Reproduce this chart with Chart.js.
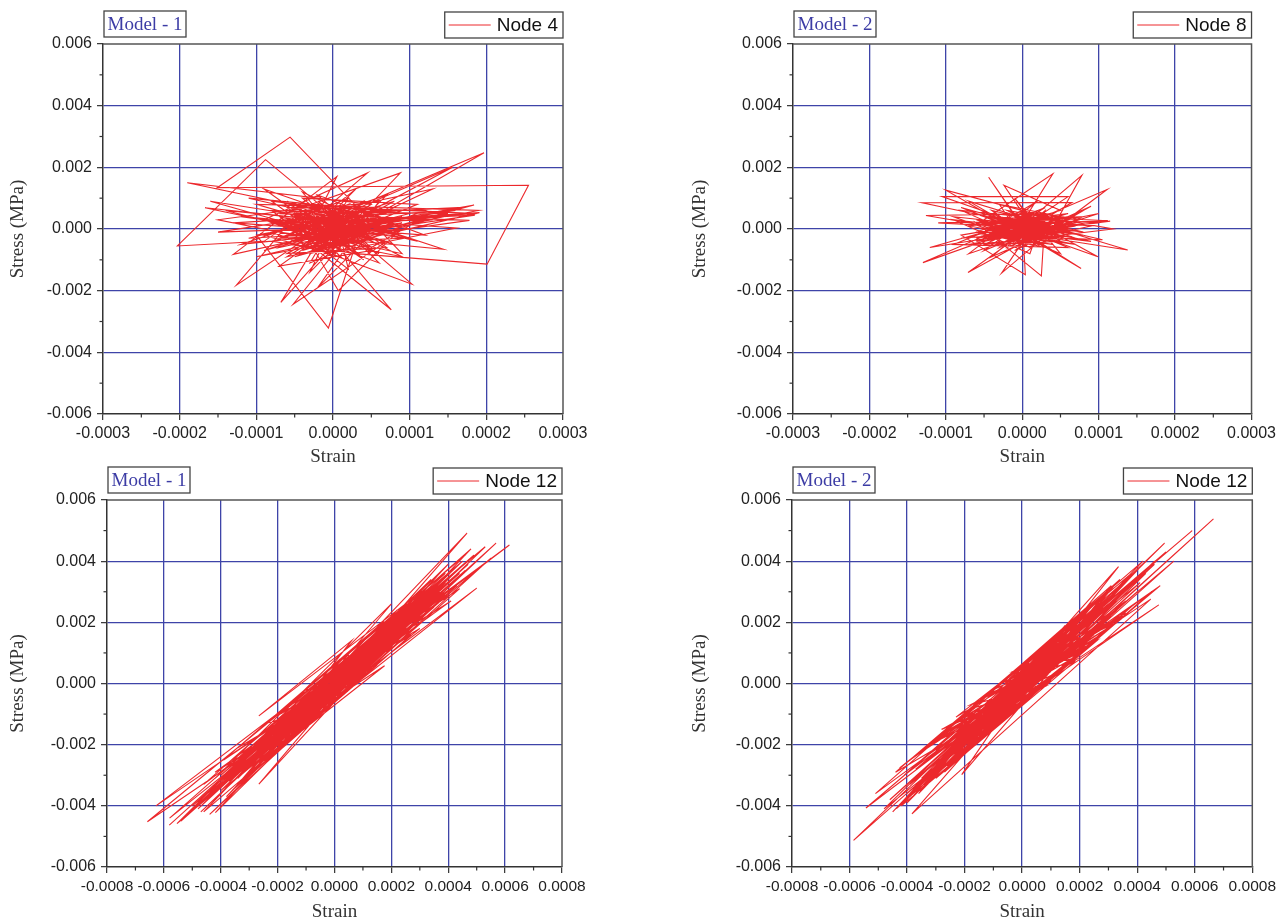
<!DOCTYPE html>
<html><head><meta charset="utf-8">
<script src="https://cdn.jsdelivr.net/npm/chart.js@4/dist/chart.umd.min.js"></script>
<style>
html,body{margin:0;padding:0;background:#fff;}
body{width:1282px;height:919px;position:relative;overflow:hidden;}
canvas{position:absolute;}
</style></head><body>
<canvas id="c1" width="600" height="470" style="left:0px;top:0px"></canvas>
<canvas id="c2" width="600" height="470" style="left:680px;top:0px"></canvas>
<canvas id="c3" width="600" height="462" style="left:0px;top:462px"></canvas>
<canvas id="c4" width="600" height="462" style="left:680px;top:462px"></canvas>
<script>
// ---------- tick values and labels ----------
const strainTicksSmall = [-0.0003,-0.0002,-0.0001,0,0.0001,0.0002,0.0003];
const strainLabelsSmall = ['-0.0003','-0.0002','-0.0001','0.0000','0.0001','0.0002','0.0003'];
const strainTicksLarge = [-0.0008,-0.0006,-0.0004,-0.0002,0,0.0002,0.0004,0.0006,0.0008];
const strainLabelsLarge = ['-0.0008','-0.0006','-0.0004','-0.0002','0.0000','0.0002','0.0004','0.0006','0.0008'];
const stressTicks = [-0.006,-0.004,-0.002,0,0.002,0.004,0.006];
const stressLabels = ['-0.006','-0.004','-0.002','0.000','0.002','0.004','0.006'];

// ---------- Model 1, Node 4 ----------
const node4Strain = [0,0.3e-4,-0.4e-4,0.6e-4,-0.2e-4,-0.9e-4,-2.03e-4,-0.88e-4,0.5e-4,1.2e-4,
-0.3e-4,0.2e-4,-0.7e-4,0.9e-4,-0.56e-4,-1.51e-4,2.55e-4,2.01e-4,0.3e-4,-0.5e-4,
0.7e-4,-1.0e-4,-0.06e-4,0.4e-4,-1.9e-4,0.5e-4,-0.6e-4,1.91e-4,-0.2e-4,0.76e-4,
-0.3e-4,0.2e-4,-1.26e-4,-0.4e-4,0.88e-4,0.1e-4,-0.68e-4,0,1.97e-4,0.6e-4,
-0.8e-4,1.03e-4,-0.1e-4,1.44e-4,-0.5e-4,0.45e-4,-0.9e-4,0.7e-4,-0.52e-4,0.3e-4,
1.84e-4,-0.2e-4,0.9e-4,-1.3e-4,0.05e-4,-0.3e-4,1.56e-4,0.2e-4,-1.67e-4,0.4e-4,
-0.2e-4,0.6e-4,-0.7e-4,1.78e-4,0.1e-4,-0.4e-4,0.8e-4,0.07e-4,-0.5e-4,1.61e-4,
-0.1e-4,0.5e-4,-1.1e-4,1.0e-4,-0.6e-4,0.3e-4,-0.3e-4,1.5e-4,-0.8e-4,0.2e-4,
0,-1.5e-4,0.9e-4,-0.2e-4,1.3e-4,-0.4e-4,0.6e-4,-0.9e-4,0.4e-4,-0.1e-4,
1.1e-4,-0.6e-4,0.3e-4,-1.2e-4,0.7e-4,-0.3e-4,0.1e-4,1.87e-4,-0.5e-4,0.5e-4,
-0.7e-4,0.2e-4,-0.1e-4,0.8e-4,-1.0e-4,0.4e-4,-0.2e-4,1.2e-4,-0.4e-4,0,
0.2e-4,-0.3e-4,0.5e-4,-0.1e-4,0.4e-4,-0.6e-4,0.1e-4,-0.2e-4,0.7e-4,-0.4e-4,
1.85e-4,-0.2e-4,0.3e-4,-0.7e-4,0.6e-4,-1.4e-4,0.2e-4,-0.1e-4,0.8e-4,-0.5e-4,
0,0.4e-4,-0.3e-4,1.6e-4,-0.6e-4,0.1e-4,-0.8e-4,0.5e-4,-0.2e-4,0.9e-4,
-1.0e-4,0.3e-4,-0.4e-4,0.6e-4,-0.1e-4,1.3e-4,-0.5e-4,0.2e-4,-0.7e-4,0.4e-4,
-1.6e-4,0.7e-4,-0.3e-4,0.1e-4,-0.6e-4,1.2e-4,-0.2e-4,0.5e-4,-0.9e-4,0.3e-4,
-0.1e-4,0.8e-4,-0.5e-4,0.2e-4,-1.2e-4,0.6e-4,-0.3e-4,0,1.7e-4,-0.4e-4,
0.3e-4,-0.8e-4,0.1e-4,-0.2e-4,0.7e-4,-0.6e-4,0.4e-4,-0.1e-4,1.0e-4,-1.1e-4,
0.2e-4,-0.4e-4,0.6e-4,-0.3e-4,0,0.9e-4,-0.7e-4,0.3e-4,-0.5e-4,1.4e-4,
-0.2e-4,0.5e-4,-0.9e-4,0.1e-4,-0.4e-4,0.7e-4,-1.3e-4,0.4e-4,-0.1e-4,0.6e-4,
-0.6e-4,0.2e-4,-0.3e-4,1.9e-4,-0.5e-4,0.3e-4,-0.8e-4,0,0.5e-4,-0.2e-4,
-1.5e-4,0.8e-4,-0.1e-4,0.4e-4,-0.7e-4,0.2e-4,-0.4e-4,1.1e-4,-0.3e-4,0.1e-4];
const node4Stress = [0,0.5e-3,-0.3e-3,0.2e-3,0.8e-3,-0.4e-3,-0.55e-3,2.25e-3,-0.6e-3,0.4e-3,
-1.1e-3,1.0e-3,0.1e-3,-0.8e-3,2.98e-3,1.34e-3,1.42e-3,-1.14e-3,-0.8e-3,0.5e-3,
0.6e-3,-0.2e-3,-3.21e-3,0.3e-3,1.5e-3,0.8e-3,-0.9e-3,0.53e-3,0.2e-3,-2.62e-3,
-0.5e-3,0.6e-3,-1.82e-3,0.7e-3,1.82e-3,-0.2e-3,-2.38e-3,0.4e-3,2.47e-3,0.5e-3,
-0.1e-3,-1.79e-3,0.6e-3,-0.66e-3,-0.2e-3,1.82e-3,0.3e-3,-0.4e-3,-2.44e-3,0.1e-3,
0.78e-3,-0.6e-3,0.4e-3,-0.82e-3,1.7e-3,0,2.0e-3,0.2e-3,0.69e-3,-0.4e-3,
-1.9e-3,0.9e-3,0.5e-3,0.28e-3,-0.3e-3,1.2e-3,-0.2e-3,-2.0e-3,0.4e-3,0.03e-3,
-0.8e-3,0.1e-3,1.0e-3,0.5e-3,-0.5e-3,1.3e-3,-0.2e-3,0.5e-3,0.6e-3,-1.3e-3,
0.8e-3,0.3e-3,-0.9e-3,0.5e-3,1.3e-3,-0.7e-3,0,1.3e-3,-1.0e-3,0.3e-3,
-0.4e-3,0.9e-3,-0.1e-3,-0.5e-3,1.1e-3,-1.4e-3,0.7e-3,0.5e-3,0.2e-3,-0.7e-3,
-1.2e-3,0.4e-3,-0.4e-3,0.7e-3,0.8e-3,-0.2e-3,1.1e-3,-0.2e-3,0.1e-3,-0.6e-3,
-0.1e-3,0.3e-3,-0.3e-3,0.5e-3,0,-0.2e-3,0.4e-3,-0.5e-3,0.3e-3,0.2e-3,
0.45e-3,-0.3e-3,0.6e-3,-0.6e-3,0.1e-3,0.6e-3,-0.4e-3,0.1e-3,-0.5e-3,0.6e-3,
-0.9e-3,0.4e-3,-0.1e-3,0.6e-3,0.3e-3,-0.7e-3,0.9e-3,0.5e-3,-0.2e-3,0.2e-3,
-0.9e-3,-0.3e-3,0.5e-3,-0.8e-3,0.2e-3,0.3e-3,-0.4e-3,0.8e-3,-0.1e-3,-0.5e-3,
0.9e-3,0,0.4e-3,-0.5e-3,0.7e-3,0.6e-3,-0.7e-3,0.2e-3,-0.7e-3,0.3e-3,
-0.3e-3,0.9e-3,-0.1e-3,0.1e-3,0.4e-3,-0.2e-3,-0.8e-3,0.5e-3,0.7e-3,-0.3e-3,
-0.6e-3,0.2e-3,0.3e-3,0.9e-3,-0.6e-3,-0.8e-3,0.6e-3,-0.1e-3,0,-0.3e-3,
0.5e-3,-0.6e-3,0.4e-3,0.6e-3,-0.4e-3,-0.3e-3,0.4e-3,-0.2e-3,-0.9e-3,0.4e-3,
0,0.7e-3,-0.2e-3,-0.9e-3,0.3e-3,0.5e-3,0.2e-3,-0.1e-3,0.6e-3,-1.1e-3,
0,0.3e-3,-0.4e-3,0.6e-3,0.8e-3,-0.8e-3,-0.4e-3,0.2e-3,-0.4e-3,0.4e-3,
-0.1e-3,0.1e-3,-0.6e-3,0.9e-3,-0.3e-3,-0.2e-3,1.0e-3,0.8e-3,-0.6e-3,0.1e-3];

// ---------- Model 2, Node 8 ----------
const node8Strain = [0,0.3e-4,-0.3e-4,0.5e-4,-1.31e-4,0.65e-4,-0.2e-4,0.4e-4,-1.3e-4,-0.1e-4,
0.2e-4,-0.5e-4,0.4e-4,-0.1e-4,0.6e-4,-1.0e-4,0.1e-4,-0.44e-4,0,0.78e-4,
0.3e-4,-0.4e-4,1.38e-4,0.2e-4,-0.71e-4,0.4e-4,-0.3e-4,0.77e-4,-0.1e-4,1.11e-4,
0.1e-4,-0.6e-4,0.25e-4,0.3e-4,-1.26e-4,0.5e-4,-0.2e-4,1.19e-4,-0.5e-4,0.2e-4,
-0.27e-4,0.6e-4,-0.8e-4,0.04e-4,0,1.12e-4,-0.4e-4,0.3e-4,-1.21e-4,0.5e-4,
-0.24e-4,0.2e-4,0.9e-4,-0.3e-4,0.1e-4,0.99e-4,-0.6e-4,0.4e-4,-1.05e-4,0.6e-4,
-0.1e-4,0.7e-4,-0.5e-4,0.2e-4,-0.7e-4,0.5e-4,-0.2e-4,0.8e-4,-0.9e-4,0.1e-4,
0.3e-4,-0.4e-4,0.7e-4,-0.3e-4,0,1.0e-4,-0.6e-4,0.2e-4,-0.1e-4,0.5e-4,
-0.8e-4,0.4e-4,-0.2e-4,0.9e-4,-0.5e-4,0.1e-4,0.6e-4,-0.9e-4,0.3e-4,-0.3e-4,
1.15e-4,-0.4e-4,0.2e-4,-0.7e-4,0.5e-4,-0.1e-4,0.8e-4,-0.5e-4,0,
0.1e-4,-0.2e-4,0.3e-4,-0.4e-4,0.5e-4,-0.1e-4,0.2e-4,-0.3e-4,0.6e-4,0,
-0.5e-4,0.4e-4,-0.2e-4,0.7e-4,-0.6e-4,0.3e-4,-0.1e-4,0.5e-4,-0.3e-4,0.1e-4,
1.0e-4,-0.4e-4,0.2e-4,-0.7e-4,0.6e-4,-0.2e-4,0,0.4e-4,-0.5e-4,0.3e-4,
-0.1e-4,0.8e-4,-0.3e-4,0.2e-4,-0.8e-4,0.5e-4,-0.2e-4,0.1e-4,-0.6e-4,0.7e-4,
0,-0.4e-4,0.3e-4,-0.1e-4,0.9e-4,-0.5e-4,0.2e-4,-0.3e-4,0.6e-4,-0.9e-4,
0.1e-4,-0.2e-4,0.4e-4,-0.7e-4,0.5e-4,0,-0.4e-4,0.8e-4,-0.1e-4,0.3e-4,
-0.6e-4,0.2e-4,-0.3e-4,0.6e-4,-1.1e-4,0.4e-4,-0.2e-4,0.1e-4,-0.5e-4,0.7e-4,
0,-0.3e-4,0.5e-4,-0.8e-4,0.2e-4,-0.1e-4,0.3e-4,-0.4e-4,1.05e-4,0.1e-4];
const node8Stress = [0,0.3e-3,-0.2e-3,-0.1e-3,0.85e-3,0.86e-3,-0.4e-3,0.4e-3,-1.09e-3,0.2e-3,
-0.5e-3,0.3e-3,1.79e-3,-0.2e-3,0.2e-3,1.26e-3,-0.3e-3,1.68e-3,0.1e-3,1.74e-3,
-0.4e-3,0,-0.68e-3,0.2e-3,-1.41e-3,0.1e-3,0.4e-3,-1.28e-3,0,1.28e-3,
-0.6e-3,0.2e-3,-1.52e-3,0.5e-3,0.44e-3,-0.3e-3,0.6e-3,0,-0.5e-3,0.3e-3,
-1.43e-3,0.4e-3,-0.2e-3,-1.48e-3,0.4e-3,0.27e-3,-0.3e-3,0,-0.6e-3,0.6e-3,
1.42e-3,-0.2e-3,0.74e-3,-0.6e-3,0.3e-3,-0.9e-3,0.5e-3,-0.2e-3,1.05e-3,1.05e-3,
-0.1e-3,-0.5e-3,-0.1e-3,0.9e-3,-0.8e-3,0.2e-3,0.1e-3,-0.2e-3,0.3e-3,-0.8e-3,
0.6e-3,-0.9e-3,0.3e-3,0.8e-3,-0.3e-3,0.5e-3,-0.3e-3,0,1.0e-3,-0.8e-3,
0.6e-3,0.3e-3,-0.5e-3,0.1e-3,0.4e-3,-0.1e-3,-0.6e-3,-0.5e-3,0.7e-3,-0.2e-3,
0.25e-3,0.2e-3,-0.4e-3,0.9e-3,0,-0.7e-3,0.6e-3,-0.7e-3,0.2e-3,
0.1e-3,0.2e-3,-0.2e-3,-0.1e-3,0.3e-3,-0.4e-3,0.4e-3,0.1e-3,-0.1e-3,-0.2e-3,
0.2e-3,0.2e-3,-0.3e-3,0.1e-3,-0.4e-3,0.3e-3,0.5e-3,-0.4e-3,-0.5e-3,0,
0.2e-3,0.4e-3,-0.3e-3,0.1e-3,0.5e-3,-0.1e-3,0.6e-3,-0.5e-3,-0.2e-3,0.1e-3,
-0.6e-3,0.4e-3,0.3e-3,-0.1e-3,-0.3e-3,0.4e-3,0.5e-3,-0.4e-3,0.3e-3,-0.3e-3,
0.3e-3,-0.4e-3,0.5e-3,0.1e-3,-0.4e-3,0,0.2e-3,-0.3e-3,0,0.4e-3,
-0.5e-3,0.3e-3,-0.3e-3,-0.5e-3,0.1e-3,-0.1e-3,0.6e-3,-0.1e-3,0.2e-3,-0.6e-3,
-0.1e-3,0.6e-3,-0.1e-3,0.3e-3,0.2e-3,0,-0.6e-3,0.4e-3,-0.3e-3,0.2e-3,
0,0.2e-3,-0.2e-3,0.7e-3,-0.3e-3,0.4e-3,-0.1e-3,-0.2e-3,-0.35e-3,0.2e-3];

// ---------- Model 1, Node 12 ----------
const m1Node12Strain = [0,1.2e-4,-0.8e-4,2.1e-4,-1.6e-4,2.8e-4,-2.2e-4,3.5e-4,-0.5e-4,4.66e-4,
-1.0e-4,1.76e-4,-3.0e-4,0.6e-4,-2.66e-4,3.9e-4,-4.2e-4,2.0e-4,-3.5e-4,5.68e-4,
-1.8e-4,1.0e-4,-4.39e-4,3.0e-4,-0.2e-4,4.4e-4,-2.5e-4,1.5e-4,-5.81e-4,0.3e-4,
6.15e-4,-1.4e-4,2.4e-4,-3.2e-4,3.3e-4,-2.66e-4,1.3e-4,-0.6e-4,5.0e-4,-4.0e-4,
2.6e-4,-1.2e-4,0.9e-4,-6.58e-4,3.8e-4,-2.0e-4,1.8e-4,-3.8e-4,4.2e-4,-0.9e-4,
0.4e-4,-5.54e-4,2.2e-4,-1.5e-4,5.3e-4,-3.0e-4,0.8e-4,-2.3e-4,3.6e-4,-0.3e-4,
2.9e-4,-4.19e-4,1.1e-4,-1.9e-4,4.5e-4,-3.3e-4,0.1e-4,2.5e-4,-6.28e-4,1.6e-4,
-1.1e-4,3.4e-4,-2.7e-4,0.5e-4,4.8e-4,-4.6e-4,2.0e-4,-0.7e-4,3.0e-4,-3.6e-4,
1.4e-4,-2.1e-4,5.5e-4,-1.3e-4,0.7e-4,-5.0e-4,2.7e-4,-0.4e-4,3.9e-4,-2.4e-4,
1.9e-4,-3.9e-4,0.2e-4,4.1e-4,-1.7e-4,1.0e-4,-2.9e-4,3.1e-4,-0.1e-4,4.0e-4,
-4.8e-4,2.3e-4,-1.6e-4,0.6e-4,-3.4e-4,3.7e-4,-2.2e-4,1.5e-4,-0.8e-4,0,
-1.5e-4,2.0e-4,-2.6e-4,1.2e-4,-0.4e-4,3.2e-4,-3.1e-4,0.9e-4,-1.8e-4,2.7e-4,
-4.3e-4,1.6e-4,-0.9e-4,3.6e-4,-2.4e-4,0.4e-4,-3.7e-4,4.3e-4,-1.1e-4,2.3e-4,
-2.8e-4,0.7e-4,-5.2e-4,3.4e-4,-0.6e-4,1.9e-4,-3.3e-4,4.6e-4,-1.9e-4,0.2e-4,
-2.0e-4,2.8e-4,-4.5e-4,1.1e-4,-0.2e-4,3.8e-4,-2.9e-4,1.7e-4,-1.3e-4,2.5e-4,
-3.6e-4,0.8e-4,-5.8e-4,4.0e-4,-1.6e-4,1.4e-4,-2.5e-4,3.1e-4,-0.5e-4,2.1e-4,
-3.4e-4,0.5e-4,-4.0e-4,4.9e-4,-2.2e-4,1.3e-4,-1.0e-4,3.5e-4,-2.7e-4,0.6e-4,
-4.7e-4,2.4e-4,-1.4e-4,1.8e-4,-3.0e-4,3.9e-4,-0.8e-4,0.9e-4,-2.3e-4,2.9e-4,
-5.4e-4,4.4e-4,-1.7e-4,1.0e-4,-3.5e-4,2.6e-4,-0.3e-4,1.5e-4,-2.6e-4,3.3e-4,
-4.1e-4,0.3e-4,-1.2e-4,2.2e-4,-3.2e-4,4.7e-4,-2.0e-4,1.2e-4,-0.7e-4,3.0e-4,
-3.8e-4,2.1e-4,-1.5e-4,0.8e-4,-2.4e-4,3.7e-4,-4.4e-4,1.6e-4,-1.0e-4,0.4e-4,
0.5e-4,-1.7e-4,2.7e-4,-3.9e-4,1.7e-4,-0.3e-4,3.3e-4,-2.2e-4,0.9e-4,-4.2e-4,
4.1e-4,-1.4e-4,0.2e-4,-2.8e-4,3.6e-4,-0.9e-4,1.5e-4,-3.4e-4,2.0e-4,-0.1e-4,
-2.4e-4,4.6e-4,-1.0e-4,0.7e-4,-3.0e-4,2.2e-4,-4.6e-4,1.2e-4,-0.6e-4,3.0e-4,
-1.9e-4,0.4e-4,-3.6e-4,2.6e-4,-1.2e-4,0];
const m1Node12Stress = [0,1.3e-3,-0.9e-3,1.5e-3,-1.0e-3,2.6e-3,-2.1e-3,2.5e-3,-0.1e-3,4.92e-3,
-1.1e-3,0.58e-3,-2.9e-3,1.4e-3,-1.06e-3,3.6e-3,-3.1e-3,2.6e-3,-3.4e-3,4.59e-3,
-1.7e-3,0.5e-3,-4.28e-3,2.0e-3,0.3e-3,3.1e-3,-2.6e-3,1.5e-3,-4.63e-3,0.5e-3,
4.53e-3,-0.8e-3,1.6e-3,-2.3e-3,3.2e-3,-3.29e-3,0.7e-3,-0.8e-3,3.12e-3,-3.5e-3,
2.4e-3,-0.5e-3,0.2e-3,-4.52e-3,3.4e-3,-1.4e-3,1.9e-3,-3.7e-3,3.8e-3,-1.2e-3,
0.9e-3,-4.58e-3,1.4e-3,-1.6e-3,4.47e-3,-2.0e-3,1.1e-3,-2.5e-3,2.6e-3,-0.7e-3,
2.9e-3,-4.22e-3,0.6e-3,-1.0e-3,4.0e-3,-3.0e-3,-0.3e-3,2.2e-3,-4.0e-3,1.0e-3,
-0.6e-3,3.4e-3,-2.6e-3,0.2e-3,4.4e-3,-3.3e-3,1.3e-3,-0.2e-3,2.7e-3,-2.7e-3,
1.6e-3,-2.3e-3,4.1e-3,-1.3e-3,0.8e-3,-4.0e-3,1.9e-3,0,2.9e-3,-1.6e-3,
2.0e-3,-3.0e-3,0.4e-3,3.5e-3,-1.9e-3,1.0e-3,-2.1e-3,2.3e-3,-0.2e-3,3.9e-3,
-4.1e-3,2.0e-3,-1.2e-3,0.3e-3,-2.9e-3,3.0e-3,-1.5e-3,1.2e-3,-0.5e-3,0.2e-3,
-1.0e-3,1.8e-3,-2.4e-3,0.8e-3,-0.6e-3,2.5e-3,-2.3e-3,1.0e-3,-1.2e-3,2.5e-3,
-3.6e-3,1.5e-3,-0.4e-3,3.1e-3,-2.2e-3,0.1e-3,-3.2e-3,3.2e-3,-1.2e-3,1.7e-3,
-2.0e-3,0.9e-3,-4.3e-3,2.9e-3,-0.3e-3,1.3e-3,-2.8e-3,3.7e-3,-1.8e-3,0,
-1.9e-3,2.1e-3,-3.8e-3,1.2e-3,-0.4e-3,3.0e-3,-2.5e-3,1.1e-3,-0.7e-3,2.4e-3,
-2.9e-3,0.5e-3,-4.4e-3,3.6e-3,-1.5e-3,0.9e-3,-1.8e-3,2.8e-3,-0.6e-3,2.0e-3,
-3.1e-3,0.6e-3,-3.0e-3,4.2e-3,-2.0e-3,1.2e-3,-0.7e-3,2.8e-3,-2.3e-3,0.4e-3,
-4.2e-3,2.1e-3,-1.2e-3,1.4e-3,-2.6e-3,3.3e-3,-0.8e-3,0.7e-3,-1.7e-3,2.4e-3,
-4.5e-3,3.6e-3,-1.4e-3,0.7e-3,-2.6e-3,2.0e-3,-0.2e-3,1.4e-3,-2.2e-3,2.6e-3,
-3.4e-3,0.2e-3,-1.0e-3,1.9e-3,-2.7e-3,3.9e-3,-1.6e-3,1.0e-3,-0.6e-3,2.5e-3,
-3.2e-3,1.6e-3,-1.4e-3,0.8e-3,-1.9e-3,3.2e-3,-3.5e-3,1.3e-3,-0.9e-3,0.4e-3,
1.0e-3,-2.0e-3,1.6e-3,-2.5e-3,2.0e-3,-0.8e-3,3.2e-3,-2.4e-3,0.1e-3,-2.9e-3,
2.7e-3,-0.5e-3,0.8e-3,-2.8e-3,3.5e-3,-1.3e-3,0.6e-3,-2.1e-3,2.2e-3,-0.7e-3,
-1.3e-3,4.2e-3,-0.2e-3,0,-3.0e-3,2.4e-3,-4.2e-3,0.4e-3,-1.0e-3,1.8e-3,
-0.9e-3,-0.3e-3,-3.5e-3,2.7e-3,-1.6e-3,0.1e-3];

// ---------- Model 2, Node 12 ----------
const m2Node12Strain = [0,1.5e-4,-1.0e-4,2.4e-4,-2.0e-4,3.35e-4,-0.6e-4,1.0e-4,-3.0e-4,2.8e-4,
-1.5e-4,6.65e-4,-2.5e-4,0.5e-4,-4.26e-4,3.6e-4,-0.2e-4,1.8e-4,-3.83e-4,4.47e-4,
-1.2e-4,2.0e-4,-5.86e-4,4.95e-4,-2.8e-4,0.8e-4,-2.1e-4,3.0e-4,-0.8e-4,2.5e-4,
-5.43e-4,5.91e-4,-1.8e-4,1.2e-4,-3.5e-4,4.0e-4,-0.4e-4,2.2e-4,-4.37e-4,5.27e-4,
-1.4e-4,0.3e-4,-3.2e-4,4.75e-4,-2.3e-4,1.6e-4,-0.9e-4,3.3e-4,-4.0e-4,2.6e-4,
-1.6e-4,0.9e-4,-3.7e-4,4.3e-4,-2.6e-4,1.9e-4,-0.5e-4,3.8e-4,-4.6e-4,2.1e-4,
-1.9e-4,0.6e-4,-3.3e-4,4.6e-4,-1.1e-4,2.9e-4,-2.7e-4,1.3e-4,-0.3e-4,3.1e-4,
-3.9e-4,5.0e-4,-2.2e-4,1.1e-4,-1.3e-4,2.7e-4,-4.1e-4,3.5e-4,-0.7e-4,1.7e-4,
-2.9e-4,4.1e-4,-1.7e-4,0.4e-4,-3.4e-4,2.3e-4,-0.1e-4,0,
-1.3e-4,2.0e-4,-2.5e-4,1.2e-4,-0.5e-4,3.1e-4,-3.2e-4,0.8e-4,-1.8e-4,2.6e-4,
-4.2e-4,1.5e-4,-0.8e-4,3.7e-4,-2.3e-4,0.3e-4,-3.6e-4,4.2e-4,-1.0e-4,2.3e-4,
-2.8e-4,0.6e-4,-4.8e-4,3.4e-4,-0.4e-4,1.8e-4,-3.0e-4,4.4e-4,-1.9e-4,0.1e-4,
-2.1e-4,2.8e-4,-4.4e-4,1.0e-4,-0.2e-4,3.9e-4,-2.7e-4,1.6e-4,-1.2e-4,2.4e-4,
-3.5e-4,0.7e-4,-5.1e-4,4.5e-4,-1.6e-4,1.3e-4,-2.4e-4,3.2e-4,-0.6e-4,2.1e-4,
-3.3e-4,0.5e-4,-3.9e-4,4.8e-4,-2.0e-4,1.4e-4,-0.9e-4,3.5e-4,-2.6e-4,0.9e-4,
-4.5e-4,2.5e-4,-1.5e-4,1.9e-4,-2.9e-4,3.8e-4,-0.7e-4,1.1e-4,-2.2e-4,2.9e-4,
-3.1e-4,2.2e-4,-1.1e-4,0.2e-4,
0.5e-4,-1.7e-4,2.7e-4,-3.8e-4,1.7e-4,-0.3e-4,3.3e-4,-2.2e-4,0.9e-4,-4.0e-4,
4.0e-4,-1.4e-4,0.2e-4,-2.8e-4,3.6e-4,-0.9e-4,1.5e-4,-3.4e-4,2.0e-4,-0.1e-4,
-2.4e-4,4.6e-4,-1.0e-4,0.7e-4,-3.0e-4,2.2e-4,-4.3e-4,1.2e-4,-0.6e-4,3.0e-4,
-1.9e-4,0.4e-4,-3.6e-4,2.6e-4,-1.2e-4,0];
const m2Node12Stress = [0,1.0e-3,-0.6e-3,2.3e-3,-1.8e-3,3.82e-3,-0.9e-3,0.4e-3,-2.2e-3,2.0e-3,
-1.6e-3,5.38e-3,-2.4e-3,0.8e-3,-2.76e-3,2.7e-3,-0.4e-3,1.8e-3,-4.26e-3,2.76e-3,
-0.8e-3,1.4e-3,-5.13e-3,4.59e-3,-2.6e-3,1.0e-3,-2.98e-3,2.6e-3,-0.3e-3,1.6e-3,
-4.07e-3,5.0e-3,-1.2e-3,1.4e-3,-3.1e-3,3.0e-3,-0.7e-3,2.1e-3,-4.09e-3,4.0e-3,
-1.3e-3,0.5e-3,-2.4e-3,2.57e-3,-2.0e-3,1.6e-3,-1.1e-3,2.4e-3,-3.6e-3,2.3e-3,
-1.0e-3,0.6e-3,-2.8e-3,3.6e-3,-2.7e-3,1.2e-3,-0.2e-3,3.2e-3,-3.8e-3,1.9e-3,
-1.7e-3,0.1e-3,-3.0e-3,3.9e-3,-0.9e-3,2.8e-3,-2.0e-3,0.9e-3,0.1e-3,2.2e-3,
-3.3e-3,4.3e-3,-1.5e-3,1.2e-3,-1.4e-3,1.8e-3,-3.0e-3,3.3e-3,-0.6e-3,1.3e-3,
-2.7e-3,3.3e-3,-1.1e-3,0.3e-3,-2.6e-3,2.4e-3,-0.3e-3,0,
-0.4e-3,1.0e-3,-2.7e-3,1.6e-3,-1.0e-3,3.2e-3,-2.0e-3,-0.1e-3,-0.7e-3,1.4e-3,
-4.0e-3,1.9e-3,-1.1e-3,2.3e-3,-1.1e-3,0.8e-3,-3.6e-3,4.0e-3,-0.2e-3,1.2e-3,
-1.5e-3,-0.1e-3,-4.1e-3,3.4e-3,0.2e-3,0.7e-3,-3.1e-3,2.9e-3,-2.1e-3,0.7e-3,
-1.1e-3,2.9e-3,-2.9e-3,0.1e-3,-0.8e-3,2.6e-3,-2.9e-3,1.9e-3,-1.6e-3,2.5e-3,
-2.2e-3,1.2e-3,-3.6e-3,3.0e-3,-2.0e-3,0.4e-3,-1.3e-3,3.2e-3,-1.1e-3,1.0e-3,
-3.3e-3,1.0e-3,-2.5e-3,3.2e-3,-2.2e-3,1.7e-3,-0.1e-3,2.2e-3,-2.7e-3,1.2e-3,
-4.2e-3,2.6e-3,-1.8e-3,0.9e-3,-1.7e-3,3.6e-3,-1.1e-3,1.5e-3,-2.4e-3,1.7e-3,
-1.9e-3,2.4e-3,-1.5e-3,0.5e-3,
-0.2e-3,-0.8e-3,2.8e-3,-3.6e-3,0.8e-3,0.4e-3,2.0e-3,-1.2e-3,1.3e-3,-3.9e-3,
3.7e-3,-1.7e-3,-0.4e-3,-1.6e-3,2.3e-3,-0.1e-3,1.8e-3,-3.3e-3,1.0e-3,0.5e-3,
-2.5e-3,4.0e-3,-1.4e-3,1.2e-3,-1.8e-3,1.2e-3,-4.0e-3,1.6e-3,0,3.0e-3,
-2.1e-3,0.9e-3,-2.3e-3,1.5e-3,-0.4e-3,0];

// ---------- styling ----------
const GRID_BLUE = 'rgb(62,68,168)';
const LINE_RED = 'rgb(236,40,44)';
const AXIS_DARK = '#333';

const panelDecor = {
  id: 'panelDecor',
  afterDraw(chart, args, opts) {
    const {ctx, chartArea: ca, scales} = chart;
    ctx.save();
    ctx.strokeStyle = '#555';
    ctx.lineWidth = 1.5;
    ctx.beginPath();
    ctx.moveTo(ca.left, ca.top);
    ctx.lineTo(ca.right, ca.top);
    ctx.lineTo(ca.right, ca.bottom);
    ctx.stroke();
    ctx.strokeStyle = AXIS_DARK;
    ctx.lineWidth = 1.2;
    const xs = scales.x, ys = scales.y;
    for (let i = 0; i < xs.ticks.length - 1; i++) {
      const p = xs.getPixelForValue((xs.ticks[i].value + xs.ticks[i + 1].value) / 2);
      ctx.beginPath(); ctx.moveTo(p, ca.bottom); ctx.lineTo(p, ca.bottom + 3.5); ctx.stroke();
    }
    for (let i = 0; i < ys.ticks.length - 1; i++) {
      const p = ys.getPixelForValue((ys.ticks[i].value + ys.ticks[i + 1].value) / 2);
      ctx.beginPath(); ctx.moveTo(ca.left - 3.5, p); ctx.lineTo(ca.left, p); ctx.stroke();
    }
    const mx = ca.left + 1, my = ca.top - 33, mw = 82, mh = 26;
    ctx.fillStyle = '#fff';
    ctx.fillRect(mx, my, mw, mh);
    ctx.strokeStyle = '#444';
    ctx.lineWidth = 1.3;
    ctx.strokeRect(mx, my, mw, mh);
    ctx.font = '19px "Liberation Serif"';
    ctx.fillStyle = 'rgb(60,60,165)';
    ctx.textAlign = 'center';
    ctx.textBaseline = 'middle';
    ctx.fillText(opts.model, mx + mw / 2, my + mh / 2 + 1);
    ctx.font = '19px "Liberation Sans"';
    const tw = ctx.measureText(opts.node).width;
    const nw = 4 + 42 + 6 + tw + 5, nh = 26;
    const nx = ca.right - nw, ny = ca.top - 32;
    ctx.fillStyle = '#fff';
    ctx.fillRect(nx, ny, nw, nh);
    ctx.strokeStyle = '#444';
    ctx.strokeRect(nx, ny, nw, nh);
    ctx.strokeStyle = LINE_RED;
    ctx.lineWidth = 1;
    ctx.beginPath(); ctx.moveTo(nx + 4, ny + nh / 2); ctx.lineTo(nx + 46, ny + nh / 2); ctx.stroke();
    ctx.fillStyle = '#111';
    ctx.textAlign = 'left';
    ctx.fillText(opts.node, nx + 52, ny + nh / 2 + 1);
    ctx.restore();
  }
};

const panels = [
  {id: 'c1', model: 'Model - 1', node: 'Node 4', strain: node4Strain, stress: node4Stress,
   xTicks: strainTicksSmall, xLabels: strainLabelsSmall, yW: 103, xH: 56, padTop: 44, padRight: 37, yTitlePad: 7, xTitlePad: 2, tickFont: 16},
  {id: 'c2', model: 'Model - 2', node: 'Node 8', strain: node8Strain, stress: node8Stress,
   xTicks: strainTicksSmall, xLabels: strainLabelsSmall, yW: 113, xH: 56, padTop: 44, padRight: 28, yTitlePad: 9, xTitlePad: 2, tickFont: 16},
  {id: 'c3', model: 'Model - 1', node: 'Node 12', strain: m1Node12Strain, stress: m1Node12Stress,
   xTicks: strainTicksLarge, xLabels: strainLabelsLarge, yW: 107, xH: 57, padTop: 38, padRight: 38, yTitlePad: 7, xTitlePad: 1, tickFont: 15.5},
  {id: 'c4', model: 'Model - 2', node: 'Node 12', strain: m2Node12Strain, stress: m2Node12Stress,
   xTicks: strainTicksLarge, xLabels: strainLabelsLarge, yW: 112, xH: 57, padTop: 38, padRight: 27, yTitlePad: 9, xTitlePad: 1, tickFont: 15.5}
];

function gridColorFor(ticks) {
  return (ctx) => {
    const v = ctx.tick ? ctx.tick.value : null;
    if (v === ticks[0] || v === ticks[ticks.length - 1]) return 'rgba(0,0,0,0)';
    return GRID_BLUE;
  };
}

panels.forEach(p => {
  const points = p.strain.map((x, i) => ({x: x, y: p.stress[i]}));
  new Chart(document.getElementById(p.id), {
    type: 'scatter',
    data: {datasets: [{
      label: p.node,
      data: points,
      showLine: true,
      borderColor: LINE_RED,
      backgroundColor: LINE_RED,
      borderWidth: 1.1,
      pointRadius: 0,
      tension: 0
    }]},
    options: {
      responsive: false,
      animation: false,
      events: [],
      layout: {padding: {top: p.padTop, right: p.padRight, left: 0, bottom: 0}},
      plugins: {
        legend: {display: false},
        tooltip: {enabled: false},
        panelDecor: {model: p.model, node: p.node}
      },
      scales: {
        x: {
          type: 'linear',
          min: p.xTicks[0],
          max: p.xTicks[p.xTicks.length - 1],
          afterBuildTicks: (s) => { s.ticks = p.xTicks.map(v => ({value: v})); },
          afterFit: (s) => { s.height = p.xH; },
          ticks: {
            callback: (v, i) => p.xLabels[i],
            font: {family: 'Liberation Sans', size: p.tickFont},
            color: '#222',
            padding: 4,
            maxRotation: 0,
            autoSkip: false
          },
          grid: {color: gridColorFor(p.xTicks), lineWidth: 1.3, tickColor: AXIS_DARK, tickLength: 6, tickWidth: 1.2},
          border: {display: true, color: AXIS_DARK, width: 1.5},
          title: {display: true, text: 'Strain', font: {family: 'Liberation Serif', size: 19}, color: '#333',
                  padding: {top: 0, bottom: p.xTitlePad}}
        },
        y: {
          type: 'linear',
          min: stressTicks[0],
          max: stressTicks[stressTicks.length - 1],
          afterBuildTicks: (s) => { s.ticks = stressTicks.map(v => ({value: v})); },
          afterFit: (s) => { s.width = p.yW; },
          ticks: {
            callback: (v, i) => stressLabels[i],
            font: {family: 'Liberation Sans', size: 16},
            color: '#222',
            padding: 5,
            autoSkip: false
          },
          grid: {color: gridColorFor(stressTicks), lineWidth: 1.3, tickColor: AXIS_DARK, tickLength: 6, tickWidth: 1.2},
          border: {display: true, color: AXIS_DARK, width: 1.5},
          title: {display: true, text: 'Stress (MPa)', font: {family: 'Liberation Serif', size: 19}, color: '#333',
                  padding: {top: p.yTitlePad, bottom: 0}}
        }
      }
    },
    plugins: [panelDecor]
  });
});
</script>
</body></html>
